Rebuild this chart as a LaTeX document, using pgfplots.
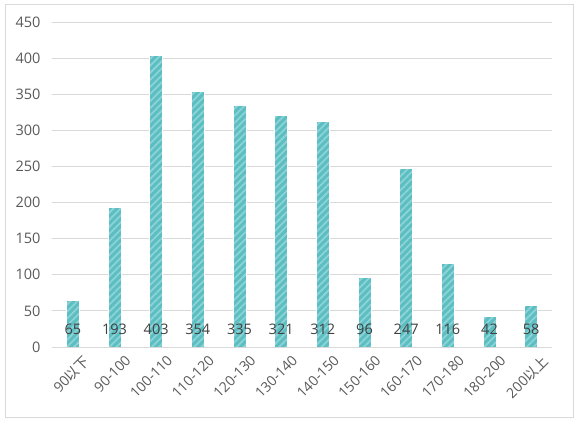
\documentclass[border=0pt]{standalone}
\usepackage{pgfplots}
\pgfplotsset{compat=1.18}
\usepackage{fontspec}
\setmainfont{Open Sans}
\newfontfamily\cjk{Noto Sans CJK SC}
\usetikzlibrary{patterns.meta}
\definecolor{barfill}{HTML}{5BBEC2}
\definecolor{stripe}{HTML}{8DD3D6}
\definecolor{txt}{HTML}{595959}
\definecolor{lbl}{HTML}{404040}
\definecolor{gridc}{HTML}{D9D9D9}
\begin{document}
\begin{tikzpicture}[x=1pt,y=1pt]
\useasboundingbox (0,0) rectangle (578,421);
\draw[draw=gridc, line width=0.8pt] (5,4) rectangle (573,417);
\begin{axis}[
  at={(52pt,74pt)}, anchor=south west,
  scale only axis, width=500pt, height=325pt,
  xmin=-0.5, xmax=11.5, ymin=0, ymax=450,
  ytick={0,50,...,450},
  xtick={0,...,11},
  xticklabels={90{\cjk 以下},90-100,100-110,110-120,120-130,130-140,140-150,150-160,160-170,170-180,180-200,200{\cjk 以上}},
  x tick label style={rotate=45, anchor=north east, font=\fontsize{14}{16}\selectfont, text=txt, inner sep=1pt, xshift=3pt, yshift=-11pt},
  y tick label style={font=\fontsize{14.5}{16}\selectfont, text=txt, xshift=-8pt},
  /pgf/number format/assume math mode=true,
  major tick length=0pt,
  axis line style={draw=none},
  ymajorgrids, grid style={draw=gridc, line width=0.8pt},
  clip=false,
]
\addplot[ybar, bar width=13pt, fill=barfill, draw=white, line width=1pt,
  postaction={pattern={Lines[angle=45,distance=5pt,line width=1.8pt]}, pattern color=stripe}]
  coordinates {(0,65) (1,193) (2,403) (3,354) (4,335) (5,321) (6,312) (7,96) (8,247) (9,116) (10,42) (11,58)};
\addplot[draw=none, mark=none, nodes near coords, point meta=explicit symbolic,
  every node near coord/.style={anchor=center, font=\fontsize{14.5}{16}\selectfont, text=lbl}]
  coordinates {(0,25)[65] (1,25)[193] (2,25)[403] (3,25)[354] (4,25)[335] (5,25)[321] (6,25)[312] (7,25)[96] (8,25)[247] (9,25)[116] (10,25)[42] (11,25)[58]};
\draw[draw=gridc, line width=0.8pt] (axis cs:-0.5,0) -- (axis cs:11.5,0);
\end{axis}
\end{tikzpicture}
\end{document}
